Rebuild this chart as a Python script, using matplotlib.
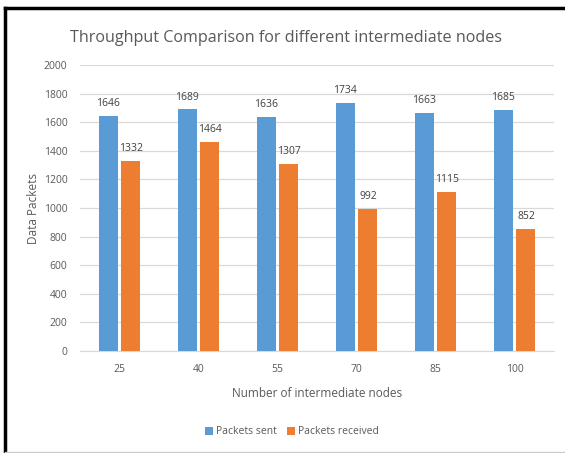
import matplotlib
matplotlib.use("Agg")
import matplotlib.pyplot as plt
from matplotlib.lines import Line2D
import numpy as np

categories = ["25", "40", "55", "70", "85", "100"]
packets_sent = [1646, 1689, 1636, 1734, 1663, 1685]
packets_received = [1332, 1464, 1307, 992, 1115, 852]

plt.rcParams['font.family'] = ['Open Sans', 'DejaVu Sans']
gray = '#595959'
blue = '#5B9BD5'
orange = '#ED7D31'

W, H = 565, 453
fig = plt.figure(figsize=(W/100, H/100), dpi=100)
ax = fig.add_axes([80/W, 1-351/H, (554-80)/W, (351-65)/H])

x = np.arange(len(categories))
w = 0.24
off = 0.145
b1 = ax.bar(x - off, packets_sent, w, color=blue, label='Packets sent', zorder=3)
b2 = ax.bar(x + off, packets_received, w, color=orange, label='Packets received', zorder=3)
for bars in (b1, b2):
    for r in bars:
        ax.annotate(f"{int(r.get_height())}", (r.get_x() + r.get_width()/2, r.get_height()),
                    xytext=(0, 5), textcoords='offset points', ha='center', va='bottom',
                    fontsize=7.5, color='#404040')

ax.set_xlim(-0.5, len(categories) - 0.5)
ax.set_ylim(0, 2000)
ax.set_yticks(range(0, 2001, 200))
ax.set_xticks(x)
ax.set_xticklabels(categories)
ax.tick_params(axis='y', length=0, labelsize=7.5, colors=gray, pad=9)
ax.tick_params(axis='x', length=0, labelsize=7.5, colors=gray, pad=9)
ax.grid(axis='y', color='#d9d9d9', lw=0.9, zorder=0)
for s in ['top', 'right', 'left']:
    ax.spines[s].set_visible(False)
ax.spines['bottom'].set_color('#d9d9d9')
ax.set_xlabel('Number of intermediate nodes', fontsize=8.5, color=gray, labelpad=9)
ax.set_ylabel('Data Packets', fontsize=8.5, color=gray, labelpad=3)

fig.text(286/W, 1-38/H, 'Throughput Comparison for different intermediate nodes',
         ha='center', va='center', fontsize=11.6, color=gray)

fig.legend(handles=[b1, b2], loc='center', bbox_to_anchor=(292/W, 1-432/H), ncol=2,
           frameon=False, fontsize=7.5, labelcolor=gray, handlelength=0.7, handleheight=0.7,
           handletextpad=0.3, columnspacing=1.0)

fig.add_artist(Line2D([5/W, 5/W], [0, 1-8/H], color='black', lw=2.5, transform=fig.transFigure))
fig.add_artist(Line2D([5/W, 1], [1-8/H, 1-8/H], color='black', lw=2.5, transform=fig.transFigure))
fig.add_artist(Line2D([5/W, 1], [1-451.5/H, 1-451.5/H], color='#cccccc', lw=1, transform=fig.transFigure))

fig.savefig('out.png', dpi=100)
